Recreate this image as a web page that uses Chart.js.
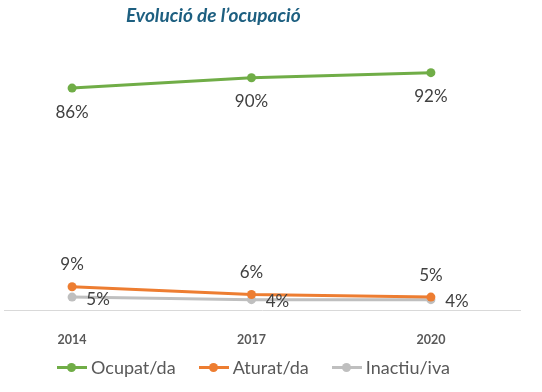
<!DOCTYPE html>
<html>
<head>
<meta charset="utf-8">
<script src="https://cdn.jsdelivr.net/npm/chart.js@4"></script>
<style>
  html, body { margin: 0; padding: 0; background: #fff; }
  #wrap { position: relative; width: 542px; height: 392px; overflow: hidden; }
  #titol {
    position: absolute; left: 126px; top: 3px; margin: 0;
    font: italic bold 19px Lato, "Open Sans", sans-serif; color: #1d5f80;
  }
  #llegenda {
    position: absolute; left: 57px; top: 356px; display: flex; align-items: center;
    font: 18px Lato, "Open Sans", sans-serif; color: #595959;
  }
  .item { display: flex; align-items: center; margin-right: 23px; }
  .marca { position: relative; width: 30px; height: 3px; margin-right: 4px; }
  .marca i { position: absolute; left: 10px; top: -3px; width: 9px; height: 9px; border-radius: 50%; }
</style>
</head>
<body>
<div id="wrap">
  <canvas id="chart" width="542" height="392"></canvas>
  <div id="titol">Evolució de l’ocupació</div>
  <div id="llegenda"></div>
</div>
<script>
  // Dades del gràfic
  const anys = [2014, 2017, 2020];
  const ocupat = [86, 90, 92];
  const aturat = [9, 6, 5];
  const inactiu = [5, 4, 4];
  const series = ['Ocupat/da', 'Aturat/da', 'Inactiu/iva'];
  const colors = ['#70ad47', '#ed7d31', '#bfbfbf'];

  // Posició de l'etiqueta de cada sèrie respecte al punt
  const desplac = [{ dx: 0, dy: 24 }, { dx: 0, dy: -22 }, { dx: 26, dy: 2 }];

  function punts(valors) {
    return valors.map((v, i) => ({ x: anys[i], y: v }));
  }

  const etiquetes = {
    id: 'etiquetes',
    afterDatasetsDraw(chart) {
      const ctx = chart.ctx;
      ctx.save();
      ctx.font = '17px Lato, "Open Sans", sans-serif';
      ctx.fillStyle = '#404040';
      ctx.textAlign = 'center';
      ctx.textBaseline = 'middle';
      chart.data.datasets.forEach((ds, d) => {
        chart.getDatasetMeta(d).data.forEach((p, i) => {
          ctx.fillText(ds.data[i].y + '%', p.x + desplac[d].dx, p.y + desplac[d].dy);
        });
      });
      ctx.restore();
    }
  };

  const ctx = document.getElementById('chart').getContext('2d');
  const grafica = new Chart(ctx, {
    type: 'line',
    data: {
      datasets: [ocupat, aturat, inactiu].map((v, k) => ({
        label: series[k],
        data: punts(v),
        borderColor: colors[k],
        backgroundColor: colors[k],
        borderWidth: 3,
        pointRadius: 4.5,
        pointBorderWidth: 0,
        tension: 0
      }))
    },
    options: {
      responsive: false,
      animation: false,
      layout: { padding: { top: 52, right: 22, left: 0, bottom: 0 } },
      plugins: { legend: { display: false }, tooltip: { enabled: false } },
      scales: {
        x: {
          type: 'linear',
          min: 2012.87,
          max: 2021.49,
          afterBuildTicks(scale) {
            scale.ticks = anys.map(a => ({ value: a }));
          },
          afterFit(scale) { scale.height = 82; },
          grid: { display: false },
          border: { display: true, color: '#d9d9d9', width: 1 },
          ticks: {
            padding: 14,
            color: '#595959',
            font: { family: 'Lato, "Open Sans", sans-serif', size: 12.5, weight: 'bold' },
            callback: v => String(v)
          }
        },
        y: { display: false, min: 0, max: 100 }
      }
    },
    plugins: [etiquetes]
  });

  // Llegenda
  const llegenda = document.getElementById('llegenda');
  series.forEach((s, k) => {
    const el = document.createElement('div');
    el.className = 'item';
    el.innerHTML = '<span class="marca" style="background:' + colors[k] + '"><i style="background:' + colors[k] + '"></i></span>' + s;
    llegenda.appendChild(el);
  });
</script>
</body>
</html>
